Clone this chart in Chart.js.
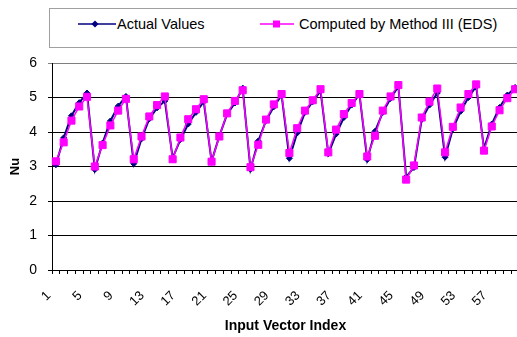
<!DOCTYPE html>
<html><head><meta charset="utf-8">
<script src="https://cdn.jsdelivr.net/npm/chart.js@4.4.0/dist/chart.umd.min.js"></script>
<style>
html,body{margin:0;padding:0;overflow:hidden;background:#fff;width:517px;height:337px;}
#wrap{position:absolute;left:0;top:0;width:525px;height:337px;}
#legend{position:absolute;left:49px;top:8px;width:480px;height:38px;border:1px solid #a0a0a0;background:#fff;font-family:"Liberation Sans",Arial,sans-serif;font-size:14.5px;color:#000;}
.item{position:absolute;top:0;height:30px;display:flex;align-items:center;white-space:nowrap;}
.item svg{display:block;margin-right:1px;}
</style></head><body>
<div id="wrap"><canvas id="c" width="525" height="337" style="width:525px;height:337px"></canvas></div>
<div id="legend">
 <div class="item" style="left:28px"><svg width="38" height="12"><line x1="0" y1="6" x2="38" y2="6" stroke="#000080" stroke-width="1.5"/><polygon points="17,2.5 20.5,6 17,9.5 13.5,6" fill="#000080"/></svg><span id="l1"></span></div>
 <div class="item" style="left:210px"><svg width="38" height="12"><line x1="0" y1="6" x2="34" y2="6" stroke="#FF00FF" stroke-width="1.5"/><rect x="13" y="2.5" width="7" height="7" fill="#FF00FF"/></svg><span id="l2"></span></div>
</div>
<script>
const categories = ['1','2','3','4','5','6','7','8','9','10','11','12','13','14','15','16','17','18','19','20',
  '21','22','23','24','25','26','27','28','29','30','31','32','33','34','35','36','37','38','39','40',
  '41','42','43','44','45','46','47','48','49','50','51','52','53','54','55','56','57','58','59','60'];
const actualValues = [3.05,3.83,4.47,4.85,5.13,2.91,3.68,4.32,4.75,5.03,
  3.08,3.80,4.38,4.70,4.90,3.25,3.78,4.23,4.57,4.88,
  3.15,3.88,4.52,4.84,5.27,2.92,3.74,4.33,4.73,5.07,
  3.24,3.97,4.57,4.88,5.19,3.37,3.94,4.42,4.78,5.10,
  3.20,4.02,4.57,4.97,5.32,2.70,2.97,4.36,4.78,5.13,
  3.27,4.09,4.60,5.00,5.32,3.52,4.23,4.71,5.07,5.29];
const computedValues = [3.15,3.70,4.33,4.74,5.02,3.00,3.62,4.19,4.62,4.96,
  3.21,3.87,4.45,4.78,5.03,3.21,3.84,4.37,4.66,4.95,
  3.14,3.87,4.54,4.90,5.21,2.98,3.63,4.36,4.80,5.10,
  3.39,4.11,4.62,4.92,5.24,3.41,4.07,4.52,4.84,5.10,
  3.29,3.89,4.62,5.03,5.36,2.62,3.03,4.42,4.88,5.26,
  3.41,4.15,4.71,5.10,5.38,3.46,4.16,4.63,4.98,5.24];
const seriesNames = ['Actual Values','Computed by Method III (EDS)'];
const yTickValues = [0,1,2,3,4,5,6];
const xTickEvery = 4;

document.getElementById('l1').textContent = seriesNames[0];
document.getElementById('l2').textContent = seriesNames[1];

const FAM = "'Liberation Sans', Arial, sans-serif";
new Chart(document.getElementById('c'), {
  type: 'line',
  data: {
    labels: categories,
    datasets: [
      {label: seriesNames[0], data: actualValues, borderColor: '#000080', backgroundColor: '#000080',
       borderWidth: 2, pointStyle: 'rectRot', pointRadius: 3, pointBorderWidth: 1, tension: 0, order: 2},
      {label: seriesNames[1], data: computedValues, borderColor: '#FF00FF', backgroundColor: '#FF00FF',
       borderWidth: 1.5, pointStyle: 'rect', pointRadius: 5, pointBorderWidth: 1, tension: 0, order: 1}
    ]
  },
  options: {
    responsive: false, animation: false, devicePixelRatio: 1,
    layout: {padding: {top: 63, left: 0, right: 0, bottom: 0}},
    plugins: {legend: {display: false}, tooltip: {enabled: false}},
    scales: {
      x: {
        offset: true,
        grid: {display: true, drawOnChartArea: false, drawTicks: true, tickLength: 4, offset: true, color: '#000'},
        border: {display: true, color: '#000'},
        ticks: {autoSkip: false, maxRotation: 45, minRotation: 45, padding: 14, labelOffset: -7,
          font: {family: FAM, size: 13}, color: '#000',
          callback: (v, i) => (i % xTickEvery === 0 ? categories[i] : '')},
        title: {display: true, text: 'Input Vector Index', color: '#000',
          font: {family: FAM, size: 14, weight: 'bold'}, padding: {top: 4, bottom: 2}},
        afterFit(s) { s.height = 67; s.paddingLeft = 0; s.paddingRight = 0; }
      },
      y: {
        min: 0, max: 6,
        afterBuildTicks(s) { s.ticks = yTickValues.map(v => ({value: v})); },
        ticks: {stepSize: 1, padding: 11, font: {family: FAM, size: 14}, color: '#000'},
        grid: {color: (c) => (c.tick && c.tick.value === 6 ? '#808080' : '#000'), tickLength: 4},
        border: {display: true, color: '#000'},
        title: {display: true, text: 'Nu', color: '#000', font: {family: FAM, size: 13, weight: 'bold'}, padding: {top: 8, bottom: 0}},
        afterFit(s) { s.width = 52; s.paddingTop = 0; s.paddingBottom = 0; }
      }
    }
  }
});
</script>
</body></html>
